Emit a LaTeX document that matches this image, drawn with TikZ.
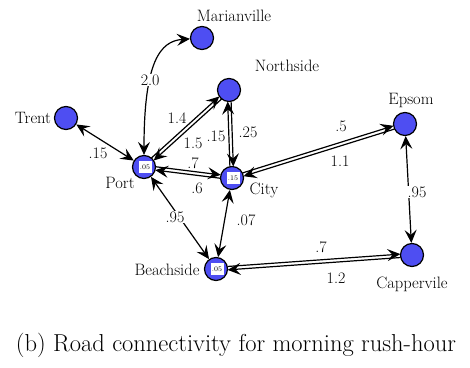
\documentclass[tikz,border=0pt]{standalone}
\usepackage{xcolor}
\usepackage{tikz}
\usetikzlibrary{arrows.meta,calc}

\definecolor{townblue}{RGB}{78,78,242}

% two one-way lanes side by side between towns #1 and #2
\newcommand{\lanes}[2]{%
  \draw[lane] ($(#1)!1.7pt!90:(#2)$) -- ($(#2)!1.7pt!-90:(#1)$);
  \draw[lane] ($(#2)!1.7pt!90:(#1)$) -- ($(#1)!1.7pt!-90:(#2)$);
}

\begin{document}
\begin{tikzpicture}[
  x=1pt, y=1pt,
  >={Stealth[length=13pt, width=12pt, inset=5pt]},
  town/.style={circle, draw, line width=1.2pt, fill=townblue, minimum size=23pt, inner sep=0pt},
  load/.style={fill=white, inner sep=0.5pt, minimum width=13pt, minimum height=12pt, xshift=1pt, font=\fontsize{7}{8}\selectfont},
  place/.style={inner sep=1pt, font=\fontsize{16.5}{19}\selectfont},
  cost/.style={inner sep=1pt, font=\fontsize{16}{19}\selectfont},
  road/.style={<->, line width=1.2pt},
  lane/.style={->, line width=1.2pt, shorten <=11.5pt, shorten >=11.5pt}
]
\useasboundingbox (0,0) rectangle (470,367);

% towns
\node[town] (marianville) at (202,329) {};
\node[town] (northside) at (229,277) {};
\node[town] (trent) at (66,249) {};
\node[town] (port) at (144,200) {};
\node[town] (city) at (232,189) {};
\node[town] (epsom) at (405,243) {};
\node[town] (beachside) at (216,98) {};
\node[town] (cappervile) at (412,112) {};

\node[load] (port-load) at (port) {.05};
\node[load] (city-load) at (city) {.15};
\node[load] (beachside-load) at (beachside) {.05};

% town names
\node[place] (marianville-name) at (234,351) {Marianville};
\node[place] (northside-name) at (287,301) {Northside};
\node[place] (trent-name) at (33,249) {Trent};
\node[place] (port-name) at (120,184) {Port};
\node[place] (city-name) at (264,177) {City};
\node[place] (epsom-name) at (411,267) {Epsom};
\node[place] (beachside-name) at (167,97) {Beachside};
\node[place] (cappervile-name) at (412,83) {Cappervile};

% roads
\draw[road] (port) .. controls (144,305) and (160,326) .. node[cost, fill=white, pos=0.36] (c-pm) {2.0} (marianville);
\draw[road] (trent) -- (port);
\draw[road] (port) -- (beachside);
\draw[road] (city) -- (beachside);
\draw[road] (epsom) -- (cappervile);
\lanes{port}{northside}
\lanes{northside}{city}
\lanes{port}{city}
\lanes{city}{epsom}
\lanes{beachside}{cappervile}

% travel costs
\node[cost] (c-tp) at (98,214) {.15};
\node[cost] (c-pn) at (177,249) {1.4};
\node[cost] (c-np) at (193,224) {1.5};
\node[cost] (c-nc) at (216,231) {.15};
\node[cost] (c-cn) at (248,235) {.25};
\node[cost] (c-pc) at (193,204) {.7};
\node[cost] (c-cp) at (197,179) {.6};
\node[cost] (c-ce) at (341,241) {.5};
\node[cost] (c-ec) at (340,206) {1.1};
\node[cost, fill=white] (c-ek) at (417,175) {.95};
\node[cost, fill=white] (c-pb) at (175,150) {.95};
\node[cost] (c-cb) at (246,147) {.07};
\node[cost] (c-bk) at (321,120) {.7};
\node[cost] (c-kb) at (336,89) {1.2};

\node[font=\fontsize{24.5}{29}\selectfont] (caption) at (236,22) {(b) Road connectivity for morning rush-hour};
\end{tikzpicture}
\end{document}
